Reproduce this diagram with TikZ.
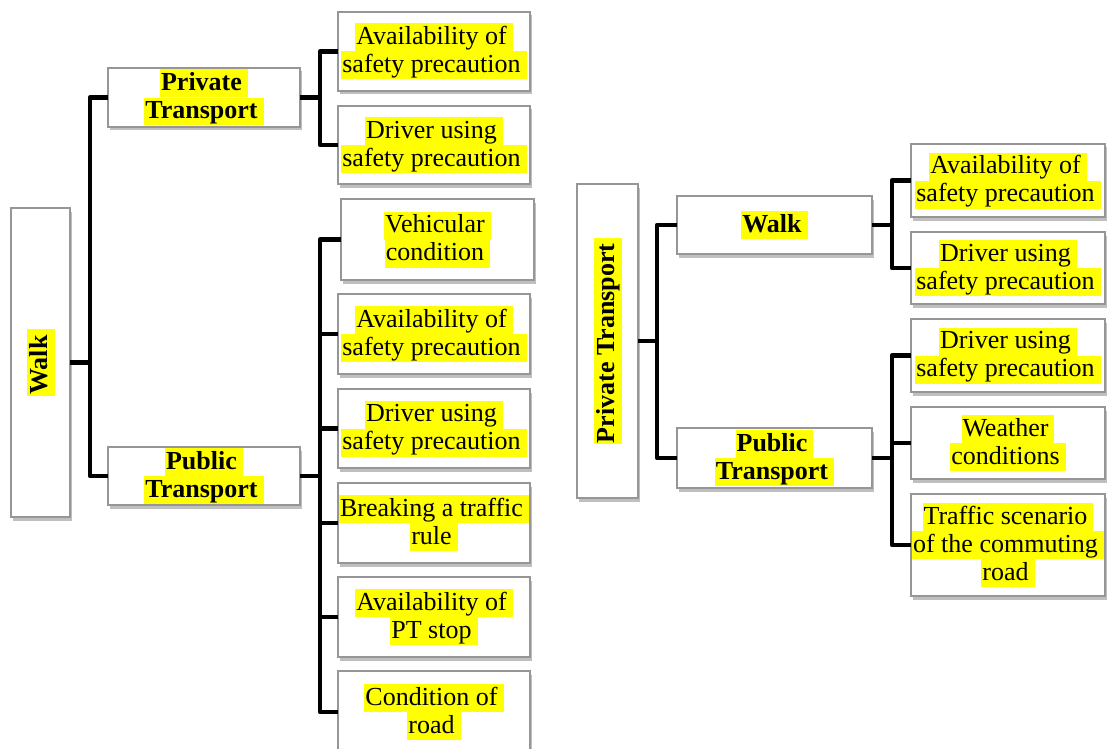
\documentclass[tikz,border=0pt]{standalone}
\usepackage{fontspec}
\setmainfont{Liberation Serif}
\usetikzlibrary{shadows}
\definecolor{hly}{RGB}{255,255,0}
\definecolor{boxline}{RGB}{150,150,150}
\newcommand{\hlt}[1]{{\setlength{\fboxsep}{0pt}\colorbox{hly}{\rule[-7pt]{0pt}{28pt}\hspace{1pt}#1\hspace{6pt}}}}
\tikzset{
  box/.style={draw=boxline, line width=1.1pt, fill=white, inner sep=0pt, outer sep=0pt,
    align=center, font=\fontsize{26}{28}\selectfont,
    drop shadow={shadow xshift=1.5pt, shadow yshift=-3.5pt, fill=black, opacity=0.25}},
  bbox/.style={box, font=\fontsize{26}{28}\selectfont\bfseries},
  conn/.style={line width=4.6pt, black, line join=round}
}
\begin{document}
\begin{tikzpicture}[x=1pt,y=-1pt]
\useasboundingbox (0,0) rectangle (1108,749);
\clip (0,0) rectangle (1108,749);
\fill[white] (0,0) rectangle (1108,749);
% spine coordinates
\coordinate (sL) at (90,0);
\coordinate (sP) at (320,0);
\coordinate (sR) at (657,0);
\coordinate (sW) at (892,0);
% ---------- left tree ----------
\node[bbox, minimum width=59pt, minimum height=309pt] (walk) at (40.5,362.5) {\rotatebox{90}{\hlt{Walk}}};
\node[bbox, minimum width=192pt, minimum height=59pt] (priv) at (204,97.5) {\hlt{Private}\\\hlt{Transport}};
\node[bbox, minimum width=192pt, minimum height=58pt] (pub) at (204,476) {\hlt{Public}\\\hlt{Transport}};
\node[box, minimum width=192pt, minimum height=79pt] (a1) at (434,51.5) {\hlt{Availability of}\\\hlt{safety precaution}};
\node[box, minimum width=192pt, minimum height=78pt] (a2) at (434,145) {\hlt{Driver using}\\\hlt{safety precaution}};
\node[box, minimum width=193pt, minimum height=81pt] (b1) at (437.5,239.5) {\hlt{Vehicular}\\\hlt{condition}};
\node[box, minimum width=192pt, minimum height=80pt] (b2) at (434,334) {\hlt{Availability of}\\\hlt{safety precaution}};
\node[box, minimum width=192pt, minimum height=79pt] (b3) at (434,428.5) {\hlt{Driver using}\\\hlt{safety precaution}};
\node[box, minimum width=192pt, minimum height=80pt] (b4) at (434,523) {\hlt{Breaking a traffic}\\\hlt{rule}};
\node[box, minimum width=192pt, minimum height=80pt] (b5) at (434,617) {\hlt{Availability of}\\\hlt{PT stop}};
\node[box, minimum width=192pt, minimum height=82pt] (b6) at (434,712) {\hlt{Condition of}\\\hlt{road}};
% connectors left
\draw[conn] (walk.east) -- (walk.east -| sL);
\draw[conn] (priv.west) -| (sL |- pub.west) -- (pub.west);
\draw[conn] (priv.east) -- (priv.east -| sP);
\draw[conn] (a1.west) -| (sP |- a2.west) -- (a2.west);
\draw[conn] (pub.east) -- (pub.east -| sP);
\draw[conn] (b1.west) -| (sP |- b6.west) -- (b6.west);
\draw[conn] (b2.west) -- (b2.west -| sP);
\draw[conn] (b3.west) -- (b3.west -| sP);
\draw[conn] (b4.west) -- (b4.west -| sP);
\draw[conn] (b5.west) -- (b5.west -| sP);
% ---------- right tree ----------
\node[bbox, minimum width=61pt, minimum height=314pt] (root2) at (607.5,341) {\rotatebox{90}{\hlt{Private Transport}}};
\node[bbox, minimum width=195pt, minimum height=58pt] (walk2) at (774.5,225) {\hlt{Walk}};
\node[bbox, minimum width=195pt, minimum height=60pt] (pub2) at (774.5,458) {\hlt{Public}\\\hlt{Transport}};
\node[box, minimum width=194pt, minimum height=73pt] (c1) at (1008,180.5) {\hlt{Availability of}\\\hlt{safety precaution}};
\node[box, minimum width=194pt, minimum height=72pt] (c2) at (1008,268) {\hlt{Driver using}\\\hlt{safety precaution}};
\node[box, minimum width=194pt, minimum height=73pt] (d1) at (1008,355.5) {\hlt{Driver using}\\\hlt{safety precaution}};
\node[box, minimum width=194pt, minimum height=72pt] (d2) at (1008,443) {\hlt{Weather}\\\hlt{conditions}};
\node[box, minimum width=194pt, minimum height=102pt] (d3) at (1008,545) {\hlt{Traffic scenario}\\\hlt{of the commuting}\\\hlt{road}};
% connectors right
\draw[conn] (root2.east) -- (root2.east -| sR);
\draw[conn] (walk2.west) -| (sR |- pub2.west) -- (pub2.west);
\draw[conn] (walk2.east) -- (walk2.east -| sW);
\draw[conn] (c1.west) -| (sW |- c2.west) -- (c2.west);
\draw[conn] (pub2.east) -- (pub2.east -| sW);
\draw[conn] (d1.west) -| (sW |- d3.west) -- (d3.west);
\draw[conn] (d2.west) -- (d2.west -| sW);
\end{tikzpicture}
\end{document}
